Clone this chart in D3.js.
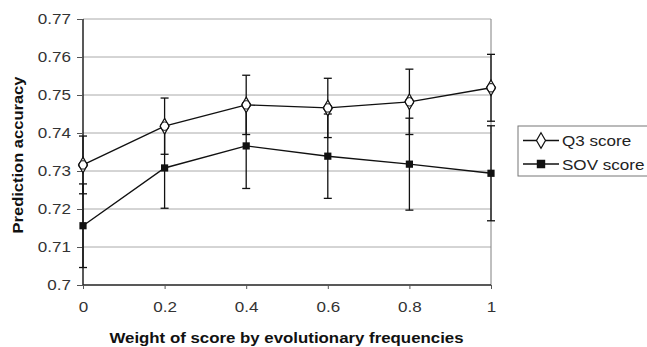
<!DOCTYPE html>
<html lang="en">
<head>
<meta charset="UTF-8">
<title>Prediction accuracy</title>
<script src="https://d3js.org/d3.v7.min.js"></script>
<style>
  body { margin: 0; background: #fff; }
  svg { font-family: "Liberation Sans", Arial, sans-serif; }
</style>
</head>
<body>
<div id="chart"></div>
<script>
// data
const weights = [0, 0.2, 0.4, 0.6, 0.8, 1];
const q3 = [0.7316, 0.7418, 0.7474, 0.7466, 0.7482, 0.7519];
const q3Err = [0.0076, 0.0074, 0.0078, 0.0078, 0.0086, 0.0088];
const sov = [0.7156, 0.7308, 0.7366, 0.7339, 0.7318, 0.7294];
const sovErr = [0.0110, 0.0106, 0.0112, 0.0111, 0.0121, 0.0125];
const yTicks = [0.7, 0.71, 0.72, 0.73, 0.74, 0.75, 0.76, 0.77];
const xTicks = [0, 0.2, 0.4, 0.6, 0.8, 1];
const seriesNames = ["Q3 score", "SOV score"];

const W = 647, H = 347;
const margin = { top: 19, right: 156, bottom: 62, left: 83 };
const width = W - margin.left - margin.right;
const height = H - margin.top - margin.bottom;

// the scanned figure's lettering is a bit wider than Arial
function widen(sel, k) {
  sel.each(function () {
    const len = this.getComputedTextLength();
    d3.select(this).attr("textLength", len * k).attr("lengthAdjust", "spacingAndGlyphs");
  });
}

const svg = d3.select("#chart").append("svg")
  .attr("width", W).attr("height", H);
const g = svg.append("g")
  .attr("transform", `translate(${margin.left},${margin.top})`);

const x = d3.scaleLinear().domain([0, 1]).range([0, width]);
const y = d3.scaleLinear().domain([0.7, 0.77]).range([height, 0]);

// gridlines
g.selectAll(".grid").data(yTicks.slice(1)).enter().append("line")
  .attr("x1", 0).attr("x2", width)
  .attr("y1", d => y(d)).attr("y2", d => y(d))
  .attr("stroke", "#aaa").attr("stroke-width", 1);

// right border
g.append("line")
  .attr("x1", width).attr("x2", width).attr("y1", 0).attr("y2", height)
  .attr("stroke", "#808080").attr("stroke-width", 1);

// axes
const yAxis = g.append("g")
  .call(d3.axisLeft(y).tickValues(yTicks).tickFormat(d => d === 0.7 ? "0.7" : d3.format(".2f")(d)).tickSize(6).tickPadding(6));
const xAxis = g.append("g")
  .attr("transform", `translate(0,${height})`)
  .call(d3.axisBottom(x).tickValues(xTicks).tickFormat(d => d === 0 || d === 1 ? d : d3.format(".1f")(d)).tickSize(4).tickPadding(12));
[yAxis, xAxis].forEach(a => {
  a.select(".domain").attr("stroke", "#222").attr("stroke-width", 1.5);
  a.selectAll(".tick line").attr("stroke", "#555");
  a.selectAll("text").attr("font-size", 15.5).attr("fill", "#333")
    .attr("font-family", "'Liberation Sans', Arial, sans-serif");
  widen(a.selectAll("text"), 1.1);
});
yAxis.select(".domain").attr("d", `M0,${height}V0`);
xAxis.select(".domain").attr("d", `M0,0H${width}`);

// error bars
function errorBars(vals, errs) {
  const eb = g.append("g").attr("stroke", "#111").attr("stroke-width", 1.3);
  weights.forEach((w, i) => {
    const cx = x(w), lo = y(vals[i] - errs[i]), hi = y(vals[i] + errs[i]);
    eb.append("line").attr("x1", cx).attr("x2", cx).attr("y1", lo).attr("y2", hi);
    eb.append("line").attr("x1", cx - 4).attr("x2", cx + 4).attr("y1", lo).attr("y2", lo);
    eb.append("line").attr("x1", cx - 4).attr("x2", cx + 4).attr("y1", hi).attr("y2", hi);
  });
}
errorBars(sov, sovErr);
errorBars(q3, q3Err);

const line = d3.line().x((d, i) => x(weights[i])).y(d => y(d));
g.append("path").datum(sov).attr("d", line)
  .attr("fill", "none").attr("stroke", "#111").attr("stroke-width", 1.4);
g.append("path").datum(q3).attr("d", line)
  .attr("fill", "none").attr("stroke", "#111").attr("stroke-width", 1.4);

const diamond = d3.symbol().type(d3.symbolDiamond).size(70);
const square = d3.symbol().type(d3.symbolSquare).size(52);

g.selectAll(".q3pt").data(q3).enter().append("path")
  .attr("d", diamond)
  .attr("transform", (d, i) => `translate(${x(weights[i])},${y(d)})`)
  .attr("fill", "#fff").attr("stroke", "#111").attr("stroke-width", 1.2);
g.selectAll(".q3c").data(q3).enter().append("circle")
  .attr("cx", (d, i) => x(weights[i])).attr("cy", d => y(d)).attr("r", 4.2)
  .attr("fill", "none").attr("stroke", "#111").attr("stroke-width", 1);
g.selectAll(".sovpt").data(sov).enter().append("path")
  .attr("d", square)
  .attr("transform", (d, i) => `translate(${x(weights[i])},${y(d)})`)
  .attr("fill", "#111");

// legend
const lg = svg.append("g").attr("transform", "translate(518,126)");
lg.append("rect").attr("width", 132).attr("height", 50)
  .attr("fill", "#fff").attr("stroke", "#777").attr("stroke-width", 1);
seriesNames.forEach((name, i) => {
  const ly = 14.5 + i * 23.5;
  lg.append("line").attr("x1", 5).attr("x2", 41).attr("y1", ly).attr("y2", ly)
    .attr("stroke", "#111").attr("stroke-width", 1.4);
  lg.append("path").attr("d", i === 0 ? diamond : square)
    .attr("transform", `translate(23,${ly})`)
    .attr("fill", i === 0 ? "#fff" : "#111").attr("stroke", "#111").attr("stroke-width", 1.2);
  const t = lg.append("text").attr("x", 44).attr("y", ly + 5.5).attr("font-size", 15.5)
    .attr("fill", "#222").text(name);
  widen(t, 1.1);
});

// axis titles
const yt = svg.append("text")
  .attr("transform", `translate(23,155) rotate(-90)`)
  .attr("text-anchor", "middle").attr("font-size", 15).attr("font-weight", "bold")
  .attr("fill", "#111").text("Prediction accuracy");
widen(yt, 1.1);
const xt = svg.append("text")
  .attr("x", 286.5).attr("y", 343)
  .attr("text-anchor", "middle").attr("font-size", 15.3).attr("font-weight", "bold")
  .attr("fill", "#111").text("Weight of score by evolutionary frequencies");
widen(xt, 1.1);
</script>
</body>
</html>
